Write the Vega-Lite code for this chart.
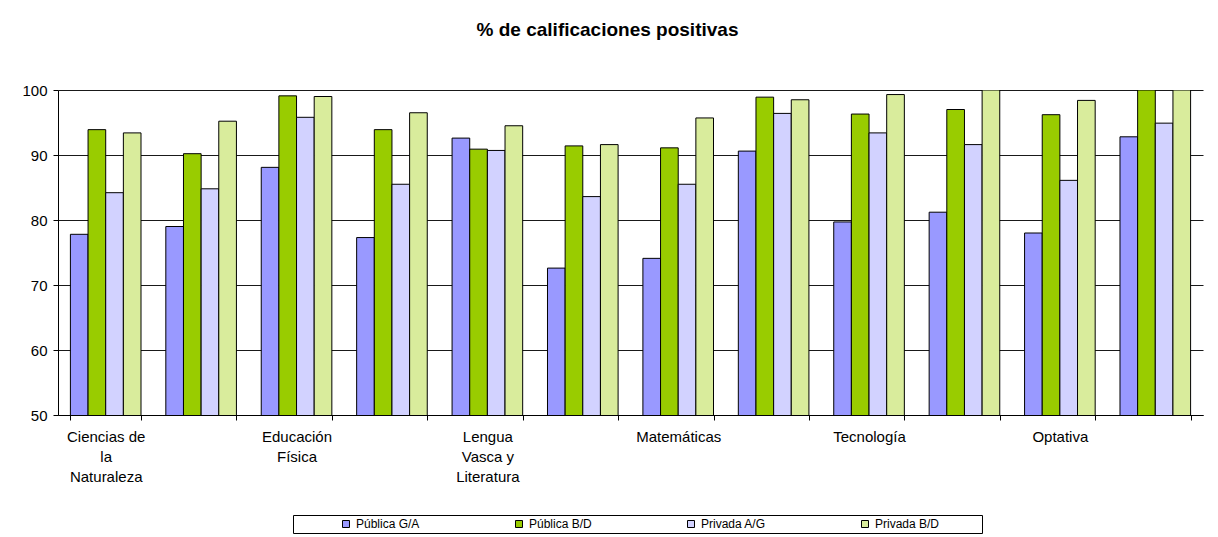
{
  "$schema": "https://vega.github.io/schema/vega-lite/v6.json",
  "width": 1145,
  "height": 325,
  "autosize": {"type": "none"},
  "padding": {"left": 58, "top": 90, "right": 15, "bottom": 122},
  "background": "white",
  "title": {
    "text": "% de calificaciones positivas",
    "font": "Liberation Sans",
    "fontSize": 19,
    "fontWeight": "bold",
    "color": "black",
    "anchor": "middle",
    "frame": "group",
    "dx": -23,
    "baseline": "alphabetic",
    "offset": 28
  },
  "data": {
    "values": [
      {"asignatura": "Ciencias de\nla\nNaturaleza", "serie": "Pública G/A", "porcentaje": 77.8},
      {"asignatura": "Ciencias de\nla\nNaturaleza", "serie": "Pública B/D", "porcentaje": 93.9},
      {"asignatura": "Ciencias de\nla\nNaturaleza", "serie": "Privada A/G", "porcentaje": 84.2},
      {"asignatura": "Ciencias de\nla\nNaturaleza", "serie": "Privada B/D", "porcentaje": 93.4},
      {"asignatura": "#2", "serie": "Pública G/A", "porcentaje": 79.0},
      {"asignatura": "#2", "serie": "Pública B/D", "porcentaje": 90.2},
      {"asignatura": "#2", "serie": "Privada A/G", "porcentaje": 84.8},
      {"asignatura": "#2", "serie": "Privada B/D", "porcentaje": 95.2},
      {"asignatura": "Educación\nFísica", "serie": "Pública G/A", "porcentaje": 88.1},
      {"asignatura": "Educación\nFísica", "serie": "Pública B/D", "porcentaje": 99.1},
      {"asignatura": "Educación\nFísica", "serie": "Privada A/G", "porcentaje": 95.8},
      {"asignatura": "Educación\nFísica", "serie": "Privada B/D", "porcentaje": 99.0},
      {"asignatura": "#4", "serie": "Pública G/A", "porcentaje": 77.3},
      {"asignatura": "#4", "serie": "Pública B/D", "porcentaje": 93.9},
      {"asignatura": "#4", "serie": "Privada A/G", "porcentaje": 85.5},
      {"asignatura": "#4", "serie": "Privada B/D", "porcentaje": 96.5},
      {"asignatura": "Lengua\nVasca y\nLiteratura", "serie": "Pública G/A", "porcentaje": 92.6},
      {"asignatura": "Lengua\nVasca y\nLiteratura", "serie": "Pública B/D", "porcentaje": 90.9},
      {"asignatura": "Lengua\nVasca y\nLiteratura", "serie": "Privada A/G", "porcentaje": 90.7},
      {"asignatura": "Lengua\nVasca y\nLiteratura", "serie": "Privada B/D", "porcentaje": 94.5},
      {"asignatura": "#6", "serie": "Pública G/A", "porcentaje": 72.6},
      {"asignatura": "#6", "serie": "Pública B/D", "porcentaje": 91.4},
      {"asignatura": "#6", "serie": "Privada A/G", "porcentaje": 83.6},
      {"asignatura": "#6", "serie": "Privada B/D", "porcentaje": 91.6},
      {"asignatura": "Matemáticas", "serie": "Pública G/A", "porcentaje": 74.1},
      {"asignatura": "Matemáticas", "serie": "Pública B/D", "porcentaje": 91.1},
      {"asignatura": "Matemáticas", "serie": "Privada A/G", "porcentaje": 85.5},
      {"asignatura": "Matemáticas", "serie": "Privada B/D", "porcentaje": 95.7},
      {"asignatura": "#8", "serie": "Pública G/A", "porcentaje": 90.6},
      {"asignatura": "#8", "serie": "Pública B/D", "porcentaje": 98.9},
      {"asignatura": "#8", "serie": "Privada A/G", "porcentaje": 96.4},
      {"asignatura": "#8", "serie": "Privada B/D", "porcentaje": 98.5},
      {"asignatura": "Tecnología", "serie": "Pública G/A", "porcentaje": 79.7},
      {"asignatura": "Tecnología", "serie": "Pública B/D", "porcentaje": 96.3},
      {"asignatura": "Tecnología", "serie": "Privada A/G", "porcentaje": 93.4},
      {"asignatura": "Tecnología", "serie": "Privada B/D", "porcentaje": 99.3},
      {"asignatura": "#10", "serie": "Pública G/A", "porcentaje": 81.2},
      {"asignatura": "#10", "serie": "Pública B/D", "porcentaje": 97.0},
      {"asignatura": "#10", "serie": "Privada A/G", "porcentaje": 91.6},
      {"asignatura": "#10", "serie": "Privada B/D", "porcentaje": 100},
      {"asignatura": "Optativa", "serie": "Pública G/A", "porcentaje": 78.0},
      {"asignatura": "Optativa", "serie": "Pública B/D", "porcentaje": 96.2},
      {"asignatura": "Optativa", "serie": "Privada A/G", "porcentaje": 86.1},
      {"asignatura": "Optativa", "serie": "Privada B/D", "porcentaje": 98.4},
      {"asignatura": "#12", "serie": "Pública G/A", "porcentaje": 92.8},
      {"asignatura": "#12", "serie": "Pública B/D", "porcentaje": 100},
      {"asignatura": "#12", "serie": "Privada A/G", "porcentaje": 94.9},
      {"asignatura": "#12", "serie": "Privada B/D", "porcentaje": 100}
    ]
  },
  "mark": {"type": "bar", "stroke": "black", "strokeWidth": 1, "clip": true},
  "encoding": {
    "x": {
      "field": "asignatura",
      "type": "nominal",
      "sort": null,
      "scale": {"paddingInner": 0.26, "paddingOuter": 0.13},
      "axis": {
        "title": null,
        "labelAngle": 0,
        "domainColor": "black",
        "tickColor": "black",
        "tickSize": 5,
        "tickBand": "extent",
        "labelFont": "Liberation Sans",
        "labelFontSize": 15,
        "labelColor": "black",
        "labelLineHeight": 20,
        "labelPadding": 9,
        "labelBaseline": "top",
        "labelOverlap": false,
        "labelLimit": 0,
        "zindex": 1,
        "labelExpr": "indexof(datum.label, '#') == 0 ? '' : split(datum.label, '\\n')"
      }
    },
    "xOffset": {
      "field": "serie",
      "type": "nominal",
      "sort": ["Pública G/A", "Pública B/D", "Privada A/G", "Privada B/D"]
    },
    "y": {
      "field": "porcentaje",
      "type": "quantitative",
      "scale": {"domain": [50, 100], "nice": false, "zero": false},
      "axis": {
        "title": null,
        "values": [50, 60, 70, 80, 90, 100],
        "domainColor": "black",
        "tickColor": "black",
        "tickSize": 5,
        "gridColor": "black",
        "gridOpacity": 0.9,
        "labelFont": "Liberation Sans",
        "labelFontSize": 15,
        "labelColor": "black",
        "labelPadding": 6
      }
    },
    "color": {
      "field": "serie",
      "type": "nominal",
      "sort": ["Pública G/A", "Pública B/D", "Privada A/G", "Privada B/D"],
      "scale": {
        "domain": ["Pública G/A", "Pública B/D", "Privada A/G", "Privada B/D"],
        "range": ["#9999ff", "#99cc00", "#d2d2ff", "#d9ec9c"]
      },
      "legend": {
        "title": null,
        "orient": "none",
        "legendX": 235,
        "legendY": 425,
        "direction": "horizontal",
        "columns": 4,
        "columnPadding": 49,
        "symbolType": "square",
        "symbolSize": 49,
        "symbolOffset": 44,
        "symbolStrokeColor": "black",
        "symbolStrokeWidth": 1,
        "symbolOpacity": 1,
        "labelFont": "Liberation Sans",
        "labelFontSize": 12,
        "labelColor": "black",
        "labelOffset": 4,
        "labelLimit": 200,
        "labelExpr": "datum.label == 'Privada B/D' ? datum.label + ' ⠀⠀⠀⠀' : datum.label",
        "strokeColor": "black",
        "fillColor": "white",
        "padding": 3
      }
    }
  },
  "config": {"view": {"stroke": null}, "font": "Liberation Sans"}
}
